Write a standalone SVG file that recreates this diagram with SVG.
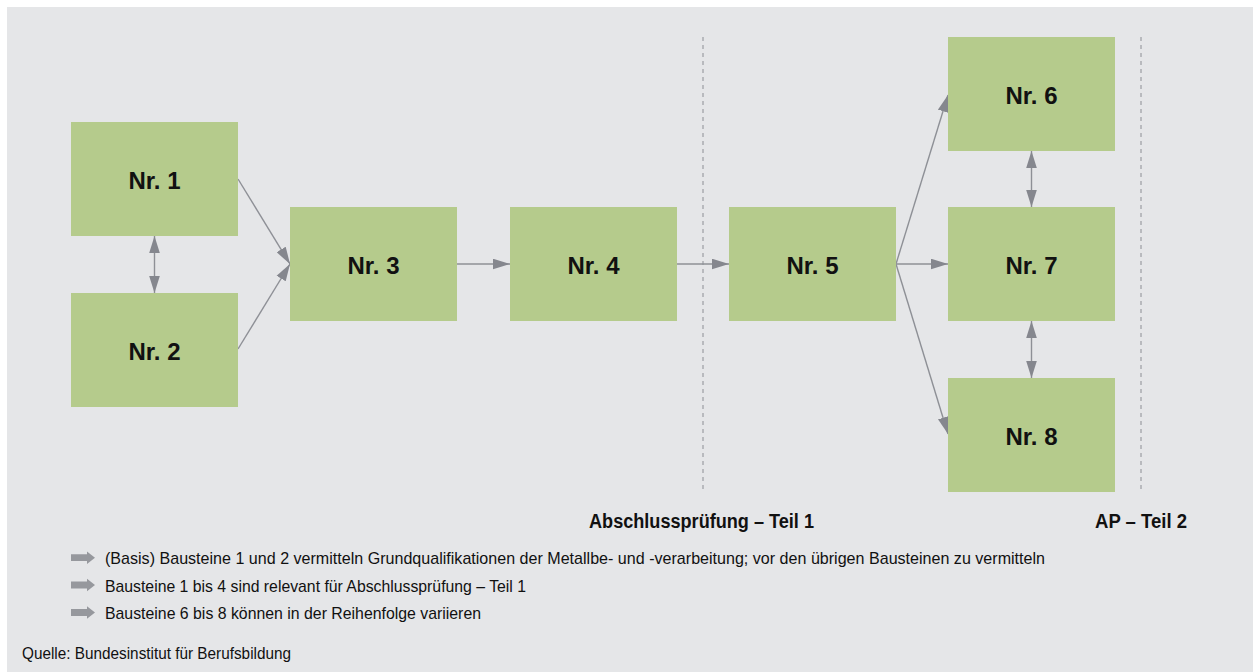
<svg xmlns="http://www.w3.org/2000/svg" width="1253" height="672" viewBox="0 0 1253 672">
  <style>
    .box { fill: #b5cb8c; }
    .lbl { font-family: "Liberation Sans", Arial, sans-serif; font-weight: bold; font-size: 24px; fill: #111; text-anchor: middle; }
    .con { stroke: #8e9096; stroke-width: 1.4; fill: none; }
    .dash { stroke: #8c8e94; stroke-width: 1; stroke-dasharray: 4 4; fill: none; }
    .phase { font-family: "Liberation Sans", Arial, sans-serif; font-weight: bold; font-size: 20px; fill: #111; }
    .leg { font-family: "Liberation Sans", Arial, sans-serif; font-size: 17px; fill: #111; }
    .legarrow { fill: #96989d; }
  </style>
  <defs>
    <marker id="ah" markerUnits="userSpaceOnUse" markerWidth="17" markerHeight="11" viewBox="0 0 16 10" refX="16" refY="5" orient="auto-start-reverse">
      <path d="M0,0 L16,5 L0,10 z" fill="#85878e"/>
    </marker>
    <polygon id="la" points="0,-3.4 16,-3.4 16,-6.2 24,0 16,6.2 16,3.4 0,3.4"/>
  </defs>

  <rect x="7" y="7" width="1246" height="665" fill="#e5e6e8"/>

  <g id="dividers">
    <line class="dash" x1="703" y1="37" x2="703" y2="492"/>
    <line class="dash" x1="1141" y1="37" x2="1141" y2="492"/>
  </g>

  <g id="connectors">
    <line class="con" x1="238" y1="179" x2="290" y2="264" marker-end="url(#ah)"/>
    <line class="con" x1="238" y1="349" x2="290" y2="264" marker-end="url(#ah)"/>
    <line class="con" x1="154.5" y1="236" x2="154.5" y2="293" marker-start="url(#ah)" marker-end="url(#ah)"/>
    <line class="con" x1="457" y1="264" x2="510" y2="264" marker-end="url(#ah)"/>
    <line class="con" x1="677" y1="264" x2="729" y2="264" marker-end="url(#ah)"/>
    <line class="con" x1="896" y1="264" x2="948" y2="95" marker-end="url(#ah)"/>
    <line class="con" x1="896" y1="264" x2="948" y2="264" marker-end="url(#ah)"/>
    <line class="con" x1="896" y1="264" x2="948" y2="434" marker-end="url(#ah)"/>
    <line class="con" x1="1031.5" y1="151" x2="1031.5" y2="207" marker-start="url(#ah)" marker-end="url(#ah)"/>
    <line class="con" x1="1031.5" y1="321" x2="1031.5" y2="378" marker-start="url(#ah)" marker-end="url(#ah)"/>
  </g>

  <g id="n1"><rect class="box" x="71" y="122" width="167" height="114"/><text class="lbl" x="154.5" y="188.5">Nr. 1</text></g>
  <g id="n2"><rect class="box" x="71" y="293" width="167" height="114"/><text class="lbl" x="154.5" y="359.5">Nr. 2</text></g>
  <g id="n3"><rect class="box" x="290" y="207" width="167" height="114"/><text class="lbl" x="373.5" y="273.5">Nr. 3</text></g>
  <g id="n4"><rect class="box" x="510" y="207" width="167" height="114"/><text class="lbl" x="593.5" y="273.5">Nr. 4</text></g>
  <g id="n5"><rect class="box" x="729" y="207" width="167" height="114"/><text class="lbl" x="812.5" y="273.5">Nr. 5</text></g>
  <g id="n6"><rect class="box" x="948" y="37" width="167" height="114"/><text class="lbl" x="1031.5" y="103.5">Nr. 6</text></g>
  <g id="n7"><rect class="box" x="948" y="207" width="167" height="114"/><text class="lbl" x="1031.5" y="273.5">Nr. 7</text></g>
  <g id="n8"><rect class="box" x="948" y="378" width="167" height="114"/><text class="lbl" x="1031.5" y="444.5">Nr. 8</text></g>

  <g id="phase-labels">
    <text class="phase" x="589" y="528" textLength="225" lengthAdjust="spacingAndGlyphs">Abschlussprüfung – Teil 1</text>
    <text class="phase" x="1095" y="528" textLength="92" lengthAdjust="spacingAndGlyphs">AP – Teil 2</text>
  </g>

  <g id="legend">
    <use href="#la" class="legarrow" x="71" y="557.7"/>
    <text class="leg" x="105" y="564" textLength="940" lengthAdjust="spacingAndGlyphs">(Basis) Bausteine 1 und 2 vermitteln Grundqualifikationen der Metallbe- und -verarbeitung; vor den übrigen Bausteinen zu vermitteln</text>
    <use href="#la" class="legarrow" x="71" y="585"/>
    <text class="leg" x="105" y="591.5" textLength="421" lengthAdjust="spacingAndGlyphs">Bausteine 1 bis 4 sind relevant für Abschlussprüfung – Teil 1</text>
    <use href="#la" class="legarrow" x="71" y="612.5"/>
    <text class="leg" x="105" y="619" textLength="376" lengthAdjust="spacingAndGlyphs">Bausteine 6 bis 8 können in der Reihenfolge variieren</text>
  </g>

  <g id="source">
    <text class="leg" x="22" y="659" textLength="269" lengthAdjust="spacingAndGlyphs">Quelle: Bundesinstitut für Berufsbildung</text>
  </g>
</svg>
